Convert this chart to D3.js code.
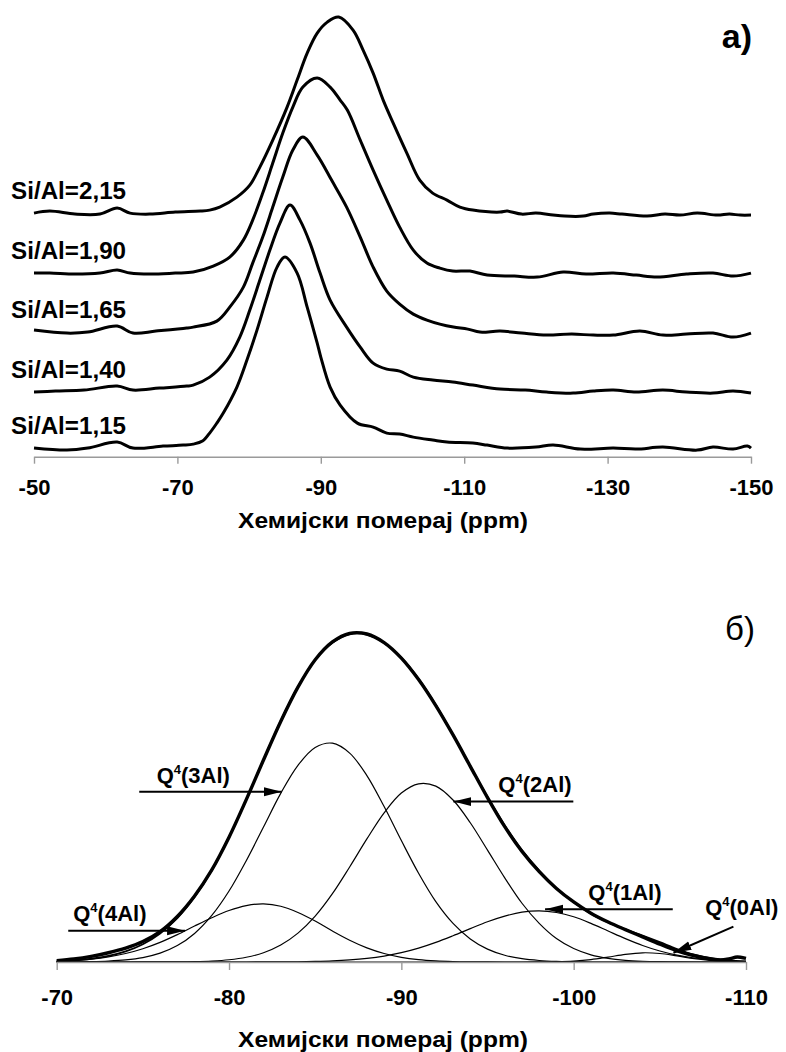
<!DOCTYPE html>
<html>
<head>
<meta charset="utf-8">
<script src="https://cdn.jsdelivr.net/npm/d3@7"></script>
<style>
  body { margin: 0; background: #fff; }
  text { font-family: "Liberation Sans", Arial, sans-serif; }
</style>
</head>
<body>
<svg id="chart" width="786" height="1052"></svg>
<script>
// ---------- Panel a): 29Si MAS NMR spectra, stacked by Si/Al ratio ----------
// Each spectrum: [chemical shift (ppm), intensity (a.u.) above its own baseline]
const spec115 = [
  [-50,0],[-54.6,-1],[-57.5,0],[-61.6,3],[-63.8,0],[-68,1],[-70.8,1.5],[-72.2,2],
  [-73.5,3.5],[-74.6,8],[-75.5,12.5],[-76.4,17.5],[-78.3,30.5],[-79.7,44],[-81.1,59],[-82.5,75.5],
  [-83.9,90.5],[-85.0,95.5],[-86.7,87.5],[-88.1,70.5],[-89.5,52.5],[-90.0,45.5],
  [-91.3,30.5],[-92.7,21.5],[-95.1,12.5],[-97.3,10.5],[-99.2,7.5],[-101,7],[-102.9,5.5],
  [-105.6,4],[-107.6,3],[-111.2,2.5],[-113.2,1.5],[-116,0],[-120,0.5],[-122.4,1.5],
  [-126.2,-0.5],[-130.8,0],[-134,-0.5],[-137.7,0.5],[-142.5,-1],[-144.7,0.5],
  [-147.5,-0.5],[-149.5,1],[-150,0]
];
const spec140 = [
  [-50,0],[-53,0.5],[-57,1],[-61.6,3],[-63.8,1],[-67.5,2],[-71.3,3],[-72.2,3.5],
  [-74.5,7.5],[-76.9,16],[-78.7,27.5],[-80.1,41],[-81.5,56],[-82.9,71],[-84.3,84.5],
  [-85.7,93.5],[-87.1,86],[-88.5,74.5],[-89.9,59.5],[-91.3,46],[-93.6,32.5],[-95.5,22.5],
  [-97.3,14.5],[-99.2,11.5],[-101,10.5],[-102.9,7.5],[-105.6,6],[-108.4,5],[-111.2,3.5],
  [-115,1.5],[-118.5,1],[-121.5,0],[-125.2,-0.5],[-128,0.5],[-130.8,1],[-134,0],
  [-137.7,1],[-141,0],[-144.7,-0.5],[-147.5,0.5],[-150,-0.5]
];
const spec165 = [
  [-50,1],[-54.6,-0.5],[-57.5,0],[-61.6,3],[-63.8,-0.5],[-67,0.5],[-71.3,2],[-72.2,2.5],
  [-75.5,5.5],[-77.3,12.5],[-79.2,22.5],[-80.5,34.5],[-81.9,47.5],[-83.3,62.5],
  [-84.7,77.5],[-86.1,91],[-87.5,97.5],[-89.5,88.5],[-91.5,76],[-93.6,62.5],[-95.5,47.5],
  [-97.3,32.5],[-99.2,20.5],[-101,14],[-102.9,9],[-104.8,6],[-106.6,4],[-108.5,2.5],
  [-110.5,1.5],[-112.2,0],[-115,0.5],[-118,-0.5],[-121.5,-1.5],[-125,-1],[-128,-1.5],
  [-130.8,-1.5],[-134.5,0.5],[-137.7,-1.5],[-141,-1],[-144.7,-0.5],[-147.5,-2.5],[-150,-0.5]
];
const spec190 = [
  [-50,0],[-52.2,0],[-55.7,-0.5],[-59.2,0],[-61.6,1.5],[-63.4,0],[-66.2,-0.5],[-69.7,0],
  [-72.2,0.5],[-75.0,3.5],[-77.3,8],[-79.2,16.5],[-80.5,26.5],[-81.9,40],[-83.3,55],
  [-84.7,70],[-86.1,83],[-87.5,93],[-89.5,97.5],[-91.3,93],[-92.7,86.5],[-93.7,81.5],
  [-95.5,66.5],[-97.3,51.5],[-99.2,36.5],[-101,23],[-102.9,11.5],[-104.8,5],[-106.6,2.5],
  [-108.4,1],[-110.8,1],[-113.2,-1],[-117,-1.5],[-120.2,-2],[-123.8,0.5],[-127,-0.5],
  [-130.8,0],[-134,-1],[-136.9,-2],[-141,-0.5],[-144.7,0],[-147.5,-1.5],[-150,0]
];
const spec215 = [
  [-50,0],[-52.2,1],[-55.7,-0.5],[-59.2,-0.5],[-61.6,2.5],[-63.4,0],[-66.2,-0.5],[-69.7,0.5],
  [-73.2,1],[-74.5,1.5],[-75.9,3],[-78.3,8],[-80.1,14],[-81.5,23],[-83.3,36.5],[-85.3,53],
  [-86.7,66.5],[-88.1,80],[-89.5,90],[-90.9,95.5],[-92.5,98],[-94.5,91.5],[-95.9,81.5],
  [-97.3,70],[-98.7,56.5],[-100.1,45],[-102,30],[-103.8,16.5],[-105.6,10],[-107.6,6.5],
  [-109.4,3],[-111.2,1.5],[-115,0.5],[-116,1],[-118,-0.5],[-120,0],[-122.4,-1],[-124,-1.5],
  [-126.6,-1.5],[-128,-0.5],[-130.3,0],[-132,-0.5],[-135.5,-1.5],[-138,-0.5],[-140.1,-1],
  [-142.5,0],[-145.3,-1],[-147,-0.5],[-148.5,-1],[-150,-1]
];
const sampleLabels = ["Si/Al=1,15", "Si/Al=1,40", "Si/Al=1,65", "Si/Al=1,90", "Si/Al=2,15"];
const spectra = [spec115, spec140, spec165, spec190, spec215];
const stackOffsets = [4.3, 32.3, 62.3, 91.8, 121.8];   // vertical stacking, a.u.
const topTicks = [-50, -70, -90, -110, -130, -150];

// ---------- Panel б): deconvolution of one spectrum into Q4(nAl) components ----------
const fitShift = [-70,-71,-72,-73,-74,-75,-76,-77,-78,-79,-80,-81,-82,-83,-84,-85,-86,-87,-88,-89,
  -90,-91,-92,-93,-94,-95,-96,-97,-98,-99,-100,-101,-102,-103,-104,-105,-106,-107,-108,-109,-110];
const q4Al4 = [0.23,0.46,0.87,1.54,2.57,4.03,5.96,8.3,10.9,13.4,15.6,17.1,17.6,16.9,15.0,12.4,9.39,
  6.59,4.28,2.57,1.42,0.73,0.35,0.15,0.06,0.02,0,0,0,0,0,0,0,0,0,0,0,0,0,0,0];
const q4Al3 = [0.02,0.04,0.11,0.28,0.63,1.34,2.67,4.97,8.66,14.1,21.5,30.7,40.9,51.1,59.6,65.0,66.3,
  63.3,56.5,47.1,36.8,26.9,18.3,11.7,7.0,3.9,2.04,1.0,0.46,0.19,0.08,0,0,0,0,0,0,0,0,0,0];
const q4Al2 = [0,0,0,0,0,0.01,0.02,0.05,0.13,0.31,0.69,1.44,2.81,5.13,8.75,13.9,20.7,28.8,37.3,45.2,
  51.2,54.0,53.3,49.1,42.2,33.9,25.5,17.8,11.7,7.1,4.07,2.17,1.08,0.5,0.22,0.09,0.03,0,0,0,0];
const q4Al1 = [0,0,0,0,0,0,0,0,0,0,0,0,0.02,0.04,0.08,0.17,0.33,0.62,1.08,1.79,2.82,4.2,5.94,7.96,
  10.1,12.2,13.9,15.1,15.5,15.0,13.7,11.7,9.38,7.08,5.01,3.33,2.08,1.22,0.67,0.35,0.17];
const q4Al0 = [0,0,0,0,0,0,0,0,0,0,0,0,0,0,0,0,0,0,0,0,0,0,0,0,0,0,0,0,0.02,0.08,0.28,0.73,1.49,
  2.32,2.79,2.58,1.83,1.0,0.42,0.14,0.04];
const fitSum = [0.25,0.5,0.98,1.82,3.2,5.38,8.65,13.3,19.7,27.8,37.8,49.2,61.3,73.1,83.4,91.5,96.7,
  99.3,99.2,96.7,92.2,85.8,77.9,68.9,59.4,50.0,41.4,33.9,27.7,22.4,18.1,14.6,12.0,9.9,8.0,6.0,3.94,
  2.22,1.09,0.49,0.21];
const measured = [
  [-70,0.4],[-71,0.9],[-72,1.7],[-73,2.8],[-74,4.2],[-75,6.2],[-76,9.2],[-77,13.8],[-78,20.0],
  [-79,27.9],[-80,37.8],[-81,49.2],[-82,61.2],[-83,72.9],[-84,83.3],[-85,91.6],[-86,97.0],
  [-87,99.6],[-88,99.4],[-89,96.8],[-90,92.1],[-91,85.6],[-92,77.7],[-93,68.8],[-94,59.3],
  [-95,49.8],[-96,41.0],[-97,33.5],[-98,27.4],[-99,22.3],[-100,18.2],[-101,14.8],[-102,12.1],
  [-103,9.8],[-104,7.6],[-105,5.4],[-106,3.4],[-107,1.9],[-108,0.9],[-108.5,0.6],[-109,0.9],
  [-109.5,1.5],[-110,1.1]
];
const bottomTicks = [-70, -80, -90, -100, -110];
// Component annotations: label anchor and arrow (from -> to), in ppm / a.u.
const componentNotes = [
  { n: "4Al", label: [-70.96, 12.4], from: [-70.67, 9.5],  to: [-77.45, 9.5] },
  { n: "3Al", label: [-75.8, 54.2],  from: [-74.79, 51.6], to: [-83.06, 51.6] },
  { n: "2Al", label: [-95.63, 51.5], from: [-99.98, 48.6], to: [-93.02, 48.6] },
  { n: "1Al", label: [-100.85, 18.8], from: [-105.75, 16.0], to: [-98.34, 16.0] },
  { n: "0Al", label: [-107.63, 14.2], from: [-109.27, 10.7], to: [-105.79, 2.8] }
];

const axisTitle = "Хемијски померај (ppm)";
const svg = d3.select("#chart");
const AXIS_GREY = "#9a9a9a";

// shared arrow head
svg.append("defs").append("marker")
  .attr("id", "arrowhead")
  .attr("viewBox", "0 0 18 10")
  .attr("refX", 18).attr("refY", 5)
  .attr("markerWidth", 18).attr("markerHeight", 10)
  .attr("markerUnits", "userSpaceOnUse")
  .attr("orient", "auto")
  .append("path").attr("d", "M0,0.5 L18,5 L0,9.5 Z").attr("fill", "#000");

function styleAxis(g) {
  g.select(".domain").attr("stroke", AXIS_GREY).attr("stroke-width", 1.6);
  g.selectAll(".tick line").attr("stroke", AXIS_GREY).attr("stroke-width", 1.4);
  g.selectAll(".tick text")
    .attr("fill", "#000")
    .attr("font-size", 22)
    .attr("font-weight", "bold")
    .attr("font-family", "'Liberation Sans', Arial, sans-serif");
}

function axisTitleText(g, y) {
  g.append("text")
    .attr("x", 383).attr("y", y)
    .attr("text-anchor", "middle")
    .attr("font-size", 22).attr("font-weight", "bold")
    .attr("textLength", 290).attr("lengthAdjust", "spacingAndGlyphs")
    .text(axisTitle);
}

// ===== Panel a) =====
const xTop = d3.scaleLinear().domain([-50, -150]).range([34, 751]);
const yTop = d3.scaleLinear().domain([0, 220]).range([456.7, 16.7]);
const gTop = svg.append("g");

spectra.forEach((spec, i) => {
  const off = stackOffsets[i];
  const line = d3.line()
    .x(d => xTop(d[0]))
    .y(d => yTop(d[1] + off))
    .curve(d3.curveCatmullRom.alpha(0.5));
  gTop.append("path")
    .datum(spec)
    .attr("d", line)
    .attr("fill", "none")
    .attr("stroke", "#000")
    .attr("stroke-width", 3)
    .attr("stroke-linejoin", "round");
  gTop.append("text")
    .attr("x", xTop(-46.8))
    .attr("y", yTop(off + 7.2))
    .attr("font-size", 23.5)
    .attr("font-weight", "bold")
    .attr("fill", "#000")
    .attr("textLength", 115).attr("lengthAdjust", "spacingAndGlyphs")
    .text(sampleLabels[i]);
});

const axTop = gTop.append("g")
  .attr("transform", `translate(0,${yTop(0)})`)
  .call(d3.axisBottom(xTop).tickValues(topTicks).tickSize(7).tickSizeOuter(0)
    .tickFormat(d => String(d)));
styleAxis(axTop);
axTop.selectAll(".tick text").attr("y", 38).attr("dy", 0);
axisTitleText(gTop, 528);

gTop.append("text")
  .attr("x", 752).attr("y", 48)
  .attr("text-anchor", "end")
  .attr("font-size", 34).attr("font-weight", "bold")
  .text("a)");

// ===== Panel б) =====
const xBot = d3.scaleLinear().domain([-70, -110]).range([56.7, 746]);
const yBot = d3.scaleLinear().domain([0, 100]).range([962, 632]);
const gBot = svg.append("g");

const pairLine = d3.line()
  .x(d => xBot(d[0]))
  .y(d => yBot(d[1]))
  .curve(d3.curveCatmullRom.alpha(0.5));
const gridLine = d3.line()
  .x((d, i) => xBot(fitShift[i]))
  .y(d => yBot(d))
  .curve(d3.curveCatmullRom.alpha(0.5));

[q4Al4, q4Al3, q4Al2, q4Al1, q4Al0].forEach(comp => {
  gBot.append("path")
    .datum(comp)
    .attr("d", gridLine)
    .attr("fill", "none")
    .attr("stroke", "#000")
    .attr("stroke-width", 1.2);
});

gBot.append("path")
  .datum(measured)
  .attr("d", pairLine)
  .attr("fill", "none")
  .attr("stroke", "#000")
  .attr("stroke-width", 3.4)
  .attr("stroke-linejoin", "round");
gBot.append("path")
  .datum(fitSum)
  .attr("d", gridLine)
  .attr("fill", "none")
  .attr("stroke", "#000")
  .attr("stroke-width", 1.8);

const axBot = gBot.append("g")
  .attr("transform", `translate(0,${yBot(0)})`)
  .call(d3.axisBottom(xBot).tickValues(bottomTicks).tickSize(8).tickSizeOuter(0)
    .tickFormat(d => String(d)));
styleAxis(axBot);
axBot.selectAll(".tick text").attr("y", 43).attr("dy", 0);
axisTitleText(gBot, 1047);

gBot.append("text")
  .attr("x", 755).attr("y", 640)
  .attr("text-anchor", "end")
  .attr("font-size", 33)
  .text("б)");

componentNotes.forEach(c => {
  gBot.append("line")
    .attr("x1", xBot(c.from[0])).attr("y1", yBot(c.from[1]))
    .attr("x2", xBot(c.to[0])).attr("y2", yBot(c.to[1]))
    .attr("stroke", "#000").attr("stroke-width", 2)
    .attr("marker-end", "url(#arrowhead)");
  const t = gBot.append("text")
    .attr("x", xBot(c.label[0])).attr("y", yBot(c.label[1]))
    .attr("font-size", 22).attr("font-weight", "bold");
  t.append("tspan").text("Q");
  t.append("tspan").attr("font-size", 13).attr("dy", -9).text("4");
  t.append("tspan").attr("dy", 9).text(`(${c.n})`);
});
</script>
</body>
</html>
